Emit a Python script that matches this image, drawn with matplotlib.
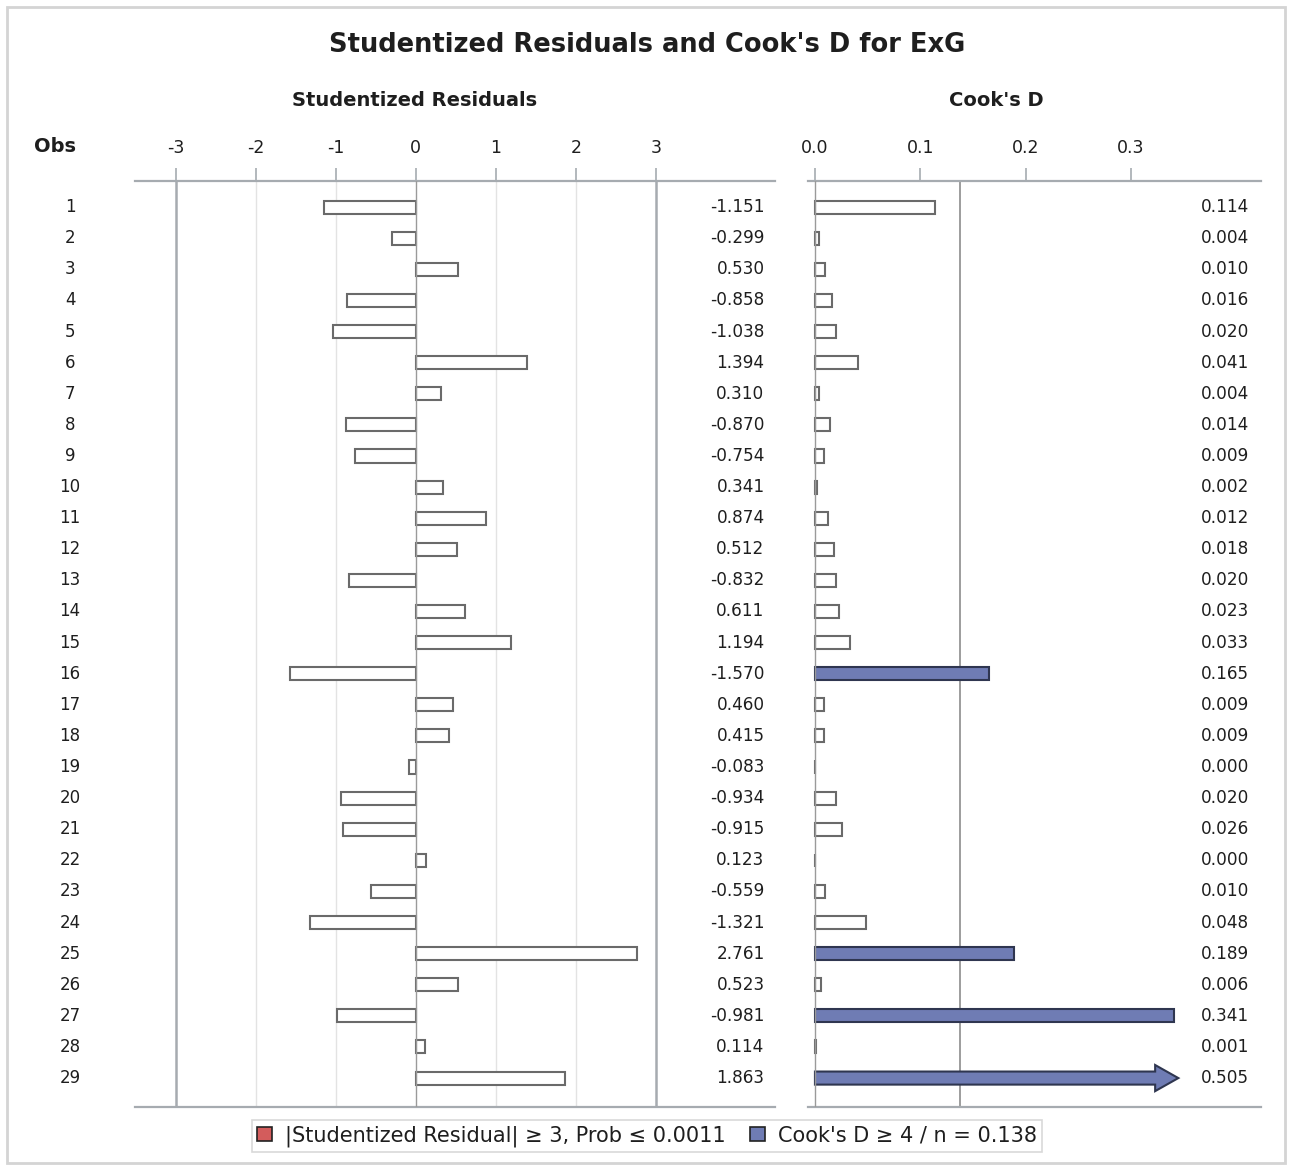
import matplotlib
matplotlib.use("Agg")
import matplotlib.pyplot as plt
import matplotlib.transforms as mtransforms
from matplotlib.patches import Patch, Rectangle
import numpy as np

obs = list(range(1, 30))
stud_resid = [-1.151, -0.299, 0.530, -0.858, -1.038, 1.394, 0.310, -0.870, -0.754, 0.341,
              0.874, 0.512, -0.832, 0.611, 1.194, -1.570, 0.460, 0.415, -0.083, -0.934,
              -0.915, 0.123, -0.559, -1.321, 2.761, 0.523, -0.981, 0.114, 1.863]
cooks_d = [0.114, 0.004, 0.010, 0.016, 0.020, 0.041, 0.004, 0.014, 0.009, 0.002,
           0.012, 0.018, 0.020, 0.023, 0.033, 0.165, 0.009, 0.009, 0.000, 0.020,
           0.026, 0.000, 0.010, 0.048, 0.189, 0.006, 0.341, 0.001, 0.505]
resid_ticks = [-3, -2, -1, 0, 1, 2, 3]
cook_ticks = [0.0, 0.1, 0.2, 0.3]
n_obs = 29
cook_cutoff = 4 / n_obs
resid_cutoff = 3

plt.rcParams['font.family'] = ['DejaVu Sans']

W, H = 1291, 1170
fig = plt.figure(figsize=(W / 100, H / 100), dpi=100)

# outer border
fig.patches.append(Rectangle((7 / W, 1 - 1163 / H), 1278 / W, 1156 / H, transform=fig.transFigure,
                             fill=False, edgecolor='#d4d4d4', linewidth=2))

top_px, bot_px = 181, 1107
ax1 = fig.add_axes([135 / W, (H - bot_px) / H, 640 / W, (bot_px - top_px) / H])
ax2 = fig.add_axes([808 / W, (H - bot_px) / H, 453 / W, (bot_px - top_px) / H])

AX_GREY = '#a6abb0'
BAR_EDGE = '#6a6a6a'
BLUE = '#6f7cb4'
BLUE_EDGE = '#2f3650'
RED = '#d35c5c'
TXT = '#1e1e1e'

y = np.array(obs)
bar_h = 0.42

for ax in (ax1, ax2):
    ax.set_ylim(29.93, 0.16)
    ax.set_yticks([])
    for s in ('left', 'right'):
        ax.spines[s].set_visible(False)
    for s in ('top', 'bottom'):
        ax.spines[s].set_color(AX_GREY)
        ax.spines[s].set_linewidth(1.6)
    ax.xaxis.set_ticks_position('top')
    ax.tick_params(axis='x', direction='out', length=9.5, width=1.2, color=AX_GREY,
                   labelsize=12.5, pad=8, labelcolor=TXT)

# ---- Left panel: studentized residuals
ax1.set_xlim(-3.51, 4.49)
ax1.set_xticks(resid_ticks)
ax1.set_xticklabels([str(t) for t in resid_ticks])
for t in resid_ticks:
    if abs(t) == resid_cutoff:
        ax1.axvline(t, color=AX_GREY, lw=1.8, zorder=0)
    elif t == 0:
        ax1.axvline(t, color='#9a9a9a', lw=1.0, zorder=3)
    else:
        ax1.axvline(t, color='#e3e3e3', lw=1.0, zorder=0)

r_colors = ['white' if abs(v) < resid_cutoff else RED for v in stud_resid]
ax1.barh(y, stud_resid, height=bar_h, color=r_colors, edgecolor=BAR_EDGE, linewidth=1.5, zorder=2)
for yi, v in zip(y, stud_resid):
    ax1.text(4.36, yi, f"{v:.3f}", ha='right', va='center', fontsize=12.2, color=TXT)

# Obs labels
tr1 = mtransforms.blended_transform_factory(fig.transFigure, ax1.transData)
for yi in obs:
    fig.text(70 / W, yi, str(yi), transform=tr1, ha='center', va='center', fontsize=12, color=TXT)
fig.text(55 / W, 1 - 146 / H, "Obs", ha='center', va='center', fontsize=14, fontweight='bold', color=TXT)

# ---- Right panel: Cook's D
cook_max = 0.345
ax2.set_xlim(-0.0066, 0.4235)
ax2.set_xticks(cook_ticks)
ax2.set_xticklabels([f"{t:.1f}" for t in cook_ticks])
ax2.axvline(0, color='#9a9a9a', lw=1.0, zorder=3)
ax2.axvline(cook_cutoff, color='#8c8c8c', lw=1.2, zorder=0)

for yi, v in zip(y, cooks_d):
    fc = BLUE if v >= cook_cutoff else 'white'
    ec = BLUE_EDGE if v >= cook_cutoff else BAR_EDGE
    if v <= cook_max:
        ax2.barh(yi, v, height=bar_h, color=fc, edgecolor=ec, linewidth=1.5, zorder=2)
    else:
        head_len = 0.022
        hw = 0.42
        xs = [0, cook_max - head_len, cook_max - head_len, cook_max,
              cook_max - head_len, cook_max - head_len, 0]
        ys = [yi - bar_h / 2, yi - bar_h / 2, yi - hw, yi, yi + hw, yi + bar_h / 2, yi + bar_h / 2]
        ax2.fill(xs, ys, facecolor=fc, edgecolor=ec, linewidth=1.5, zorder=2)
    ax2.text(0.412, yi, f"{v:.3f}", ha='right', va='center', fontsize=12.2, color=TXT)

# titles
fig.text(647 / W, 1 - 45 / H, "Studentized Residuals and Cook's D for ExG", ha='center', va='center',
         fontsize=18.5, fontweight='bold', color=TXT)
fig.text(415 / W, 1 - 101 / H, "Studentized Residuals", ha='center', va='center',
         fontsize=14, fontweight='bold', color=TXT)
fig.text(996 / W, 1 - 101 / H, "Cook's D", ha='center', va='center',
         fontsize=14, fontweight='bold', color=TXT)

# legend
handles = [Patch(facecolor=RED, edgecolor='#222222', linewidth=1.2),
           Patch(facecolor=BLUE, edgecolor='#222222', linewidth=1.2)]
labels = ["|Studentized Residual| \u2265 3, Prob \u2264 0.0011",
          "Cook's D \u2265 4 / n = 0.138"]
leg = fig.legend(handles, labels, loc='center', bbox_to_anchor=(647 / W, 1 - 1136 / H), ncol=2,
                 fontsize=15, frameon=True, fancybox=False, handlelength=0.72, handleheight=0.72,
                 handletextpad=0.6, columnspacing=1.2, borderpad=0.25, borderaxespad=0)
for t in leg.get_texts():
    t.set_color(TXT)
leg.get_frame().set_edgecolor('#cfcfcf')
leg.get_frame().set_linewidth(1.2)

fig.savefig("out.png", dpi=100)
